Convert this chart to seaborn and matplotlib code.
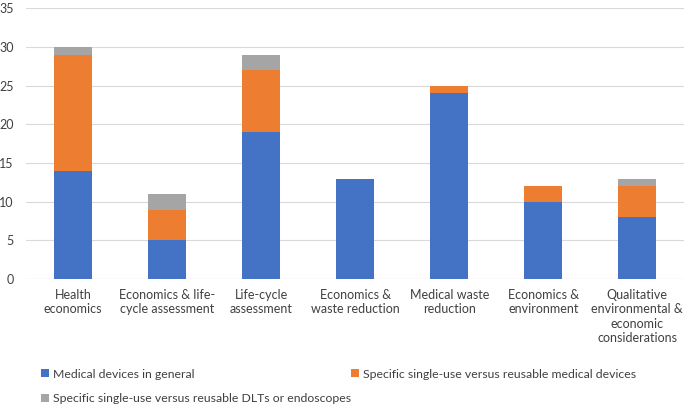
import numpy as np
import pandas as pd
import seaborn as sns
import matplotlib.pyplot as plt
from matplotlib.patches import Patch

# data
categories = ["Health\neconomics", "Economics & life-\ncycle assessment", "Life-cycle\nassessment",
              "Economics &\nwaste reduction", "Medical waste\nreduction", "Economics &\nenvironment",
              "Qualitative\nenvironmental &\neconomic\nconsiderations"]
general = [14, 5, 19, 13, 24, 10, 8]
specific_devices = [15, 4, 8, 0, 1, 2, 4]
specific_dlt = [1, 2, 2, 0, 0, 0, 1]
series_names = ["Medical devices in general",
                "Specific single-use versus reusable medical devices",
                "Specific single-use versus reusable DLTs or endoscopes"]
colors = ["#4472C4", "#ED7D31", "#A5A5A5"]

df = pd.DataFrame({"cat": categories, "a": general, "b": specific_devices, "c": specific_dlt})
df["ab"] = df["a"] + df["b"]
df["abc"] = df["ab"] + df["c"]

sns.set_style("white")
plt.rcParams['font.family'] = ['Lato', 'DejaVu Sans']

fig = plt.figure(figsize=(6.85, 4.07), dpi=100)
ax = fig.add_axes([0.038, 0.314, 0.961, 0.666])

# draw cumulative totals, tallest first, so the layers stack
for col, c in zip(["abc", "ab", "a"], colors[::-1]):
    sns.barplot(data=df, x="cat", y=col, color=c, width=0.404, saturation=1, ax=ax,
                linewidth=0, edgecolor="none", zorder=3)

ax.set_ylim(0, 35)
ax.set_yticks(range(0, 36, 5))
ax.set_xlim(-0.5, 6.5)
ax.grid(axis="y", color="#D9D9D9", linewidth=0.8, zorder=0)
ax.set_axisbelow(True)
for s in ax.spines.values():
    s.set_visible(False)
ax.axhline(0, color="#D9D9D9", linewidth=0.8, zorder=1)
ax.tick_params(axis="both", length=0, labelsize=9, colors="#404040")
ax.tick_params(axis="x", pad=7)
ax.tick_params(axis="y", pad=9)
ax.set_xlabel("")
ax.set_ylabel("")
for lab in ax.get_xticklabels():
    lab.set_verticalalignment("top")
    lab.set_linespacing(1.25)

# legend items placed one by one, two on the first row and one below
spots = [(41 / 685, 1 - 374 / 407), (351 / 685, 1 - 374 / 407), (41 / 685, 1 - 399 / 407)]
for name, c, (lx, ly) in zip(series_names, colors, spots):
    fig.legend([Patch(facecolor=c, edgecolor="none")], [name], loc="center left",
               bbox_to_anchor=(lx, ly), frameon=False, fontsize=8.8, borderpad=0,
               borderaxespad=0, handlelength=0.65, handleheight=0.65, handletextpad=0.35,
               labelcolor="#404040")

fig.savefig("out.png", dpi=100)
